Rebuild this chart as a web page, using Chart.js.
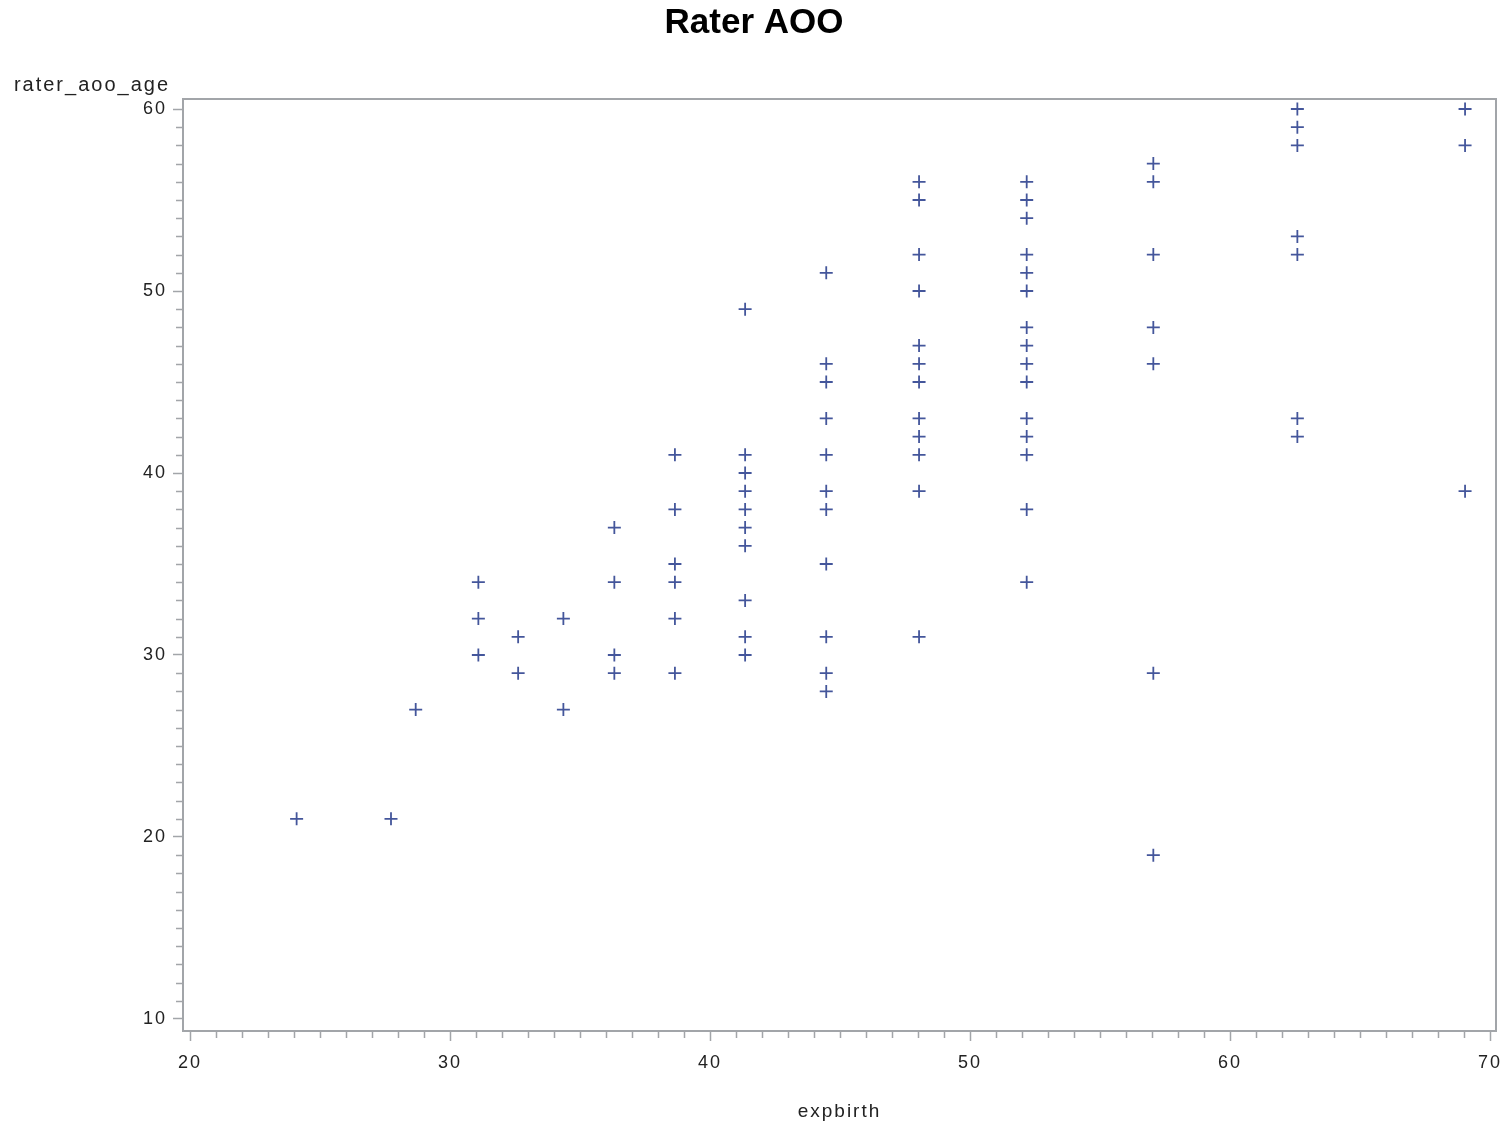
<!DOCTYPE html>
<html>
<head>
<meta charset="utf-8">
<title>Rater AOO</title>
<script src="https://cdn.jsdelivr.net/npm/chart.js@4/dist/chart.umd.min.js"></script>
<style>
  html, body { margin: 0; padding: 0; background: #fff; }
  #wrap { width: 1508px; height: 1129px; position: relative; }
</style>
</head>
<body>
<div id="wrap"><canvas id="aooChart"></canvas></div>
<script>
// Rater AOO - scatter of rater_aoo_age against expbirth

// Data (one entry per marker)
const expbirth = [
  24.10,
  27.73,
  28.68,
  31.09, 31.09, 31.09,
  32.62, 32.62,
  34.36, 34.36,
  36.32, 36.32, 36.32, 36.32,
  38.65, 38.65, 38.65, 38.65, 38.65, 38.65,
  41.35, 41.35, 41.35, 41.35, 41.35, 41.35, 41.35, 41.35, 41.35, 41.35,
  44.47, 44.47, 44.47, 44.47, 44.47, 44.47, 44.47, 44.47, 44.47, 44.47, 44.47,
  48.04, 48.04, 48.04, 48.04, 48.04, 48.04, 48.04, 48.04, 48.04, 48.04, 48.04, 48.04,
  52.18, 52.18, 52.18, 52.18, 52.18, 52.18, 52.18, 52.18, 52.18, 52.18, 52.18, 52.18, 52.18, 52.18, 52.18,
  57.05, 57.05, 57.05, 57.05, 57.05, 57.05, 57.05,
  62.59, 62.59, 62.59, 62.59, 62.59, 62.59, 62.59,
  69.04, 69.04, 69.04
];
const raterAooAge = [
  21,
  21,
  27,
  34, 32, 30,
  31, 29,
  32, 27,
  37, 34, 30, 29,
  41, 38, 35, 34, 32, 29,
  49, 41, 40, 39, 38, 37, 36, 33, 31, 30,
  51, 46, 45, 43, 41, 39, 38, 35, 31, 29, 28,
  56, 55, 52, 50, 47, 46, 45, 43, 42, 41, 39, 31,
  56, 55, 54, 52, 51, 50, 48, 47, 46, 45, 43, 42, 41, 38, 34,
  57, 56, 52, 48, 46, 29, 19,
  60, 59, 58, 53, 52, 43, 42,
  60, 58, 39
];

// Axis ticks
const xMajorTicks = [20, 30, 40, 50, 60, 70];
const yMajorTicks = [10, 20, 30, 40, 50, 60];

const chartTitle = 'Rater AOO';
const xTitle = 'expbirth';
const yTitle = 'rater_aoo_age';

const FRAME = '#a2a5a9';
const MARKER = '#44569b';
const TEXT = '#222';
const FONT = "'Liberation Sans', Arial, sans-serif";

// every unit between first and last major tick gets a tick mark
function unitTicks(majors) {
  const out = [];
  for (let v = majors[0]; v <= majors[majors.length - 1]; v++) out.push({ value: v });
  return out;
}

function isMajor(list, v) {
  return list.indexOf(v) !== -1;
}

const points = expbirth.map((x, i) => ({ x: x, y: raterAooAge[i] }));

// SAS style text is spaced out a bit
const spacingPlugin = {
  id: 'spacing',
  beforeLayout(chart) { chart.ctx.letterSpacing = '2px'; },
  beforeDraw(chart) { chart.ctx.letterSpacing = '2px'; }
};

// frame, minor ticks, title and the horizontal y-axis label
const decorPlugin = {
  id: 'decor',
  afterDraw(chart) {
    const ctx = chart.ctx;
    const area = chart.chartArea;
    const xs = chart.scales.x;
    const ys = chart.scales.y;
    ctx.save();

    ctx.strokeStyle = FRAME;
    ctx.lineWidth = 2;
    ctx.strokeRect(area.left, area.top, area.right - area.left, area.bottom - area.top);

    // minor ticks, shorter than the major ones
    ctx.lineWidth = 1.5;
    ctx.beginPath();
    unitTicks(xMajorTicks).forEach(t => {
      if (isMajor(xMajorTicks, t.value)) return;
      const px = Math.round(xs.getPixelForValue(t.value)) + 0.5;
      ctx.moveTo(px, area.bottom);
      ctx.lineTo(px, area.bottom + 7);
    });
    unitTicks(yMajorTicks).forEach(t => {
      if (isMajor(yMajorTicks, t.value)) return;
      const py = Math.round(ys.getPixelForValue(t.value)) + 0.5;
      ctx.moveTo(area.left, py);
      ctx.lineTo(area.left - 7, py);
    });
    ctx.stroke();

    // y axis label sits above the axis, right-aligned with the tick labels
    ctx.letterSpacing = '2px';
    ctx.fillStyle = TEXT;
    ctx.font = '20px ' + FONT;
    ctx.textAlign = 'right';
    ctx.textBaseline = 'alphabetic';
    ctx.fillText(yTitle, area.left - 13, area.top - 8);

    // chart title, centred on the page
    ctx.letterSpacing = '0px';
    ctx.fillStyle = '#000';
    ctx.font = 'bold 35px ' + FONT;
    ctx.textAlign = 'center';
    ctx.textBaseline = 'middle';
    ctx.fillText(chartTitle, chart.width / 2, 23);

    ctx.restore();
  }
};

const ctx = document.getElementById('aooChart').getContext('2d');

const aooChart = new Chart(ctx, {
  type: 'scatter',
  data: {
    datasets: [{
      label: yTitle,
      data: points,
      pointStyle: 'cross',
      pointRadius: 6.5,
      pointHoverRadius: 6.5,
      borderWidth: 1.8,
      borderColor: MARKER,
      backgroundColor: MARKER
    }]
  },
  options: {
    responsive: true,
    maintainAspectRatio: false,
    animation: false,
    layout: {
      padding: { left: 0, right: 12, top: 99, bottom: 0 }
    },
    plugins: {
      legend: { display: false },
      title: { display: false },
      tooltip: { enabled: false }
    },
    scales: {
      x: {
        type: 'linear',
        min: 19.73,
        max: 70.23,
        afterBuildTicks: scale => { scale.ticks = unitTicks(xMajorTicks); },
        afterFit: scale => {
          scale.height = 98;
          scale.paddingLeft = 0;
          scale.paddingRight = 0;
        },
        border: { display: true, color: FRAME, width: 2 },
        grid: {
          drawOnChartArea: false,
          drawTicks: true,
          tickLength: 10,
          tickWidth: 1.5,
          tickColor: c => isMajor(xMajorTicks, c.tick.value) ? FRAME : 'rgba(0,0,0,0)'
        },
        ticks: {
          autoSkip: false,
          maxRotation: 0,
          padding: 11,
          color: TEXT,
          font: { family: FONT, size: 18 },
          callback: v => isMajor(xMajorTicks, v) ? String(v) : ''
        },
        title: {
          display: true,
          text: xTitle,
          color: TEXT,
          font: { family: FONT, size: 19 },
          padding: { top: 24, bottom: 6 }
        }
      },
      y: {
        type: 'linear',
        min: 9.34,
        max: 60.55,
        afterBuildTicks: scale => { scale.ticks = unitTicks(yMajorTicks); },
        afterFit: scale => {
          scale.width = 183;
          scale.paddingTop = 0;
          scale.paddingBottom = 0;
        },
        border: { display: true, color: FRAME, width: 2 },
        grid: {
          drawOnChartArea: false,
          drawTicks: true,
          tickLength: 10,
          tickWidth: 1.5,
          tickColor: c => isMajor(yMajorTicks, c.tick.value) ? FRAME : 'rgba(0,0,0,0)'
        },
        ticks: {
          autoSkip: false,
          padding: 6,
          color: TEXT,
          font: { family: FONT, size: 18 },
          callback: v => isMajor(yMajorTicks, v) ? String(v) : ''
        }
      }
    }
  },
  plugins: [spacingPlugin, decorPlugin]
});
</script>
</body>
</html>
